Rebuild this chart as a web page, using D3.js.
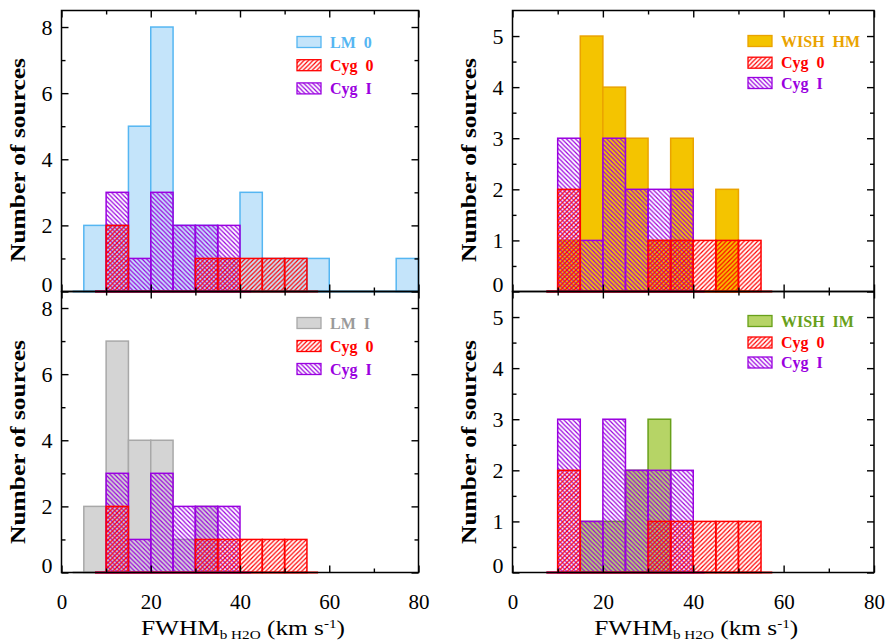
<!DOCTYPE html>
<html><head><meta charset="utf-8">
<script src="https://cdn.jsdelivr.net/npm/d3@7"></script>
<style>
body{margin:0;background:#fff}
svg{display:block}
text{font-family:"Liberation Serif","DejaVu Serif",serif}
</style>
</head><body>
<svg id="chart" width="885" height="641"></svg>
<script>
// ---- data ----
const binStarts = [5,10,15,20,25,30,35,40,45,50,55,60,65,70,75];
const binWidth = 5;
const lm0    = [2,2,5,8,2,2,1,3,1,1,1,0,0,0,1];
const lmI    = [2,7,4,4,1,2,0,0,0,0,0,0,0,0,0];
const wishHM = [0,1,5,4,3,1,3,0,2,0,0,0,0,0,0];
const wishIM = [0,0,1,1,2,3,0,0,0,0,0,0,0,0,0];
const cyg0   = [0,2,0,0,0,1,1,1,1,1,0,0,0,0,0];
const cygI   = [0,3,1,3,2,2,2,0,0,0,0,0,0,0,0];
const xMajor = [0,20,40,60,80];
const xMinor = [10,30,50,70];
const yMajorLM = [0,2,4,6,8];
const yMinorLM = [1,3,5,7];
const yMajorWISH = [0,1,2,3,4,5];
const yMinorWISH = [0.5,1.5,2.5,3.5,4.5];
const yTitle = "Number of sources";

const svg = d3.select("#chart");
const defs = svg.append("defs");
function hatch(id, color, up){
  const s = 4.5;
  const p = defs.append("pattern").attr("id", id)
    .attr("patternUnits","userSpaceOnUse").attr("width", s).attr("height", s);
  const d = up
    ? `M-1,1 l2,-2 M0,${s} l${s},${-s} M${s-1},${s+1} l2,-2`
    : `M-1,${s-1} l2,2 M0,0 l${s},${s} M${s-1},-1 l2,2`;
  p.append("path").attr("d", d).attr("stroke", color)
    .attr("stroke-width", 1.2).attr("fill","none");
}
hatch("hRed", "#ff0000", true);
hatch("hPur", "#9a00e0", false);

const series = {
  lm0:   {name:"LM  0",  vals:lm0,    fill:"#c4e4fa", stroke:"#55b6f2", text:"#55b6f2"},
  lmI:   {name:"LM  I",  vals:lmI,    fill:"#d4d4d4", stroke:"#a8a8a8", text:"#9a9a9a"},
  wishHM:{name:"WISH  HM", vals:wishHM, fill:"#f4c400", stroke:"#eaa300", text:"#eaa300"},
  wishIM:{name:"WISH  IM", vals:wishIM, fill:"#b6d466", stroke:"#68a01a", text:"#68a01a"},
  cyg0:  {name:"Cyg  0", vals:cyg0,   fill:"url(#hRed)", stroke:"#ff0000", text:"#ff0000"},
  cygI:  {name:"Cyg  I", vals:cygI,   fill:"url(#hPur)", stroke:"#9a00e0", text:"#9a00e0"}
};

const panels = [
  {x0:61.5, x1:418.5, y0:10.5,  y1:291.5, ymax:8.5, yMaj:yMajorLM, yMin:yMinorLM, main:"lm0", xlab:false, leg:[31.5,54.7,77.9], lx:297, ytx:18, ytc:160},
  {x0:512.5, x1:874,  y0:10.5,  y1:291.5, ymax:5.5, yMaj:yMajorWISH, yMin:yMinorWISH, main:"wishHM", xlab:false, leg:[30.5,52.2,72.5], lx:748, ytx:469, ytc:160},
  {x0:61.5, x1:418.5, y0:291.5, y1:572.5, ymax:8.5, yMaj:yMajorLM, yMin:yMinorLM, main:"lmI", xlab:true, leg:[31.5,54.5,77.5], lx:297, ytx:18, ytc:442},
  {x0:512.5, x1:874,  y0:291.5, y1:572.5, ymax:5.5, yMaj:yMajorWISH, yMin:yMinorWISH, main:"wishIM", xlab:true, leg:[29.5,51,71], lx:748, ytx:469, ytc:442}
];

panels.forEach(P => {
  const x = d3.scaleLinear().domain([0,80]).range([P.x0, P.x1]);
  const y = d3.scaleLinear().domain([0,P.ymax]).range([P.y1, P.y0]);
  const g = svg.append("g");

  const order = [P.main, "cygI", "cyg0"];
  order.forEach(k => {
    const s = series[k];
    const data = binStarts.map((b,i)=>({b, v:s.vals[i]})).filter(d=>d.v>0);
    g.append("g").selectAll("rect").data(data).join("rect")
      .attr("x", d=>x(d.b)).attr("width", d=>x(d.b+binWidth)-x(d.b))
      .attr("y", d=>y(d.v)).attr("height", d=>y(0)-y(d.v))
      .attr("fill", s.fill).attr("stroke", s.stroke).attr("stroke-width",1.5);
  });
  // baseline step extensions
  order.forEach(k => {
    const s = series[k];
    const nz = binStarts.filter((b,i)=>s.vals[i]>0);
    const a = Math.max(0, d3.min(nz)-binWidth/2), b = Math.min(80, d3.max(nz)+binWidth*1.5);
    g.append("line").attr("x1",x(a)).attr("x2",x(b)).attr("y1",y(0)).attr("y2",y(0))
      .attr("stroke", s.stroke).attr("stroke-width",2);
  });

  // frame
  g.append("rect").attr("x",P.x0).attr("y",P.y0).attr("width",P.x1-P.x0).attr("height",P.y1-P.y0)
    .attr("fill","none").attr("stroke","#000").attr("stroke-width",1.5);

  // ticks (inward) via d3 axes
  const tk = (axis, tr) => {
    const a = g.append("g").attr("transform", tr).call(axis);
    a.select(".domain").remove();
    a.selectAll("line").attr("stroke","#000").attr("stroke-width",1.4);
    a.selectAll("text").remove();
  };
  tk(d3.axisBottom(x).tickValues(xMajor).tickSize(-7), `translate(0,${P.y1})`);
  tk(d3.axisBottom(x).tickValues(xMinor).tickSize(-4), `translate(0,${P.y1})`);
  tk(d3.axisTop(x).tickValues(xMajor).tickSize(-7), `translate(0,${P.y0})`);
  tk(d3.axisTop(x).tickValues(xMinor).tickSize(-4), `translate(0,${P.y0})`);
  tk(d3.axisLeft(y).tickValues(P.yMaj).tickSize(-7), `translate(${P.x0},0)`);
  tk(d3.axisLeft(y).tickValues(P.yMin).tickSize(-4), `translate(${P.x0},0)`);
  tk(d3.axisRight(y).tickValues(P.yMaj).tickSize(-7), `translate(${P.x1},0)`);
  tk(d3.axisRight(y).tickValues(P.yMin).tickSize(-4), `translate(${P.x1},0)`);

  // y tick labels
  const yl = g.append("g").attr("transform",`translate(${P.x0},0)`)
    .call(d3.axisLeft(y).tickValues(P.yMaj).tickSize(0).tickPadding(9).tickFormat(d3.format("d")));
  yl.select(".domain").remove();
  yl.selectAll("text").attr("font-family",null).attr("font-size",null)
    .style("font-size","22px").attr("fill","#000")
    .attr("dy", d => d===0 ? "-0.0em" : "0.32em");

  // x tick labels
  if (P.xlab) {
    const xl = g.append("g").attr("transform",`translate(0,${P.y1})`)
      .call(d3.axisBottom(x).tickValues(xMajor).tickSize(0).tickPadding(22).tickFormat(d3.format("d")));
    xl.select(".domain").remove();
    xl.selectAll("text").attr("font-family",null).attr("font-size",null)
      .style("font-size","21px").attr("fill","#000");
    const cx = (P.x0+P.x1)/2 + 3;
    const t = g.append("text").attr("x",cx).attr("y",635).attr("text-anchor","middle")
      .style("font-size","20px").attr("textLength",204).attr("lengthAdjust","spacingAndGlyphs");
    t.append("tspan").text("FWHM");
    t.append("tspan").attr("dy",4).style("font-size","12px").text("b H2O");
    t.append("tspan").attr("dy",-4).text(" (km s");
    t.append("tspan").attr("dy",-7).style("font-size","12px").text("-1");
    t.append("tspan").attr("dy",7).text(")");
  }

  // y title
  g.append("text").attr("transform",`translate(${P.ytx},${P.ytc}) rotate(-90)`)
    .attr("text-anchor","middle").attr("dy","0.35em")
    .style("font-size","21px").style("font-weight","bold")
    .attr("textLength",204).attr("lengthAdjust","spacingAndGlyphs")
    .text(yTitle);

  // legend
  const leg = [P.main, "cyg0", "cygI"];
  leg.forEach((k,i) => {
    const s = series[k];
    const cy = P.y0 + P.leg[i];
    g.append("rect").attr("x",P.lx).attr("y",cy-5.5).attr("width",24).attr("height",11)
      .attr("fill", s.fill).attr("stroke", s.stroke).attr("stroke-width",1.3);
    g.append("text").attr("x",P.lx+33).attr("y",cy).attr("dy","0.36em")
      .style("font-size","16px").style("font-weight","bold").style("white-space","pre")
      .attr("fill", s.text).text(s.name);
  });
});
</script>
</body></html>
